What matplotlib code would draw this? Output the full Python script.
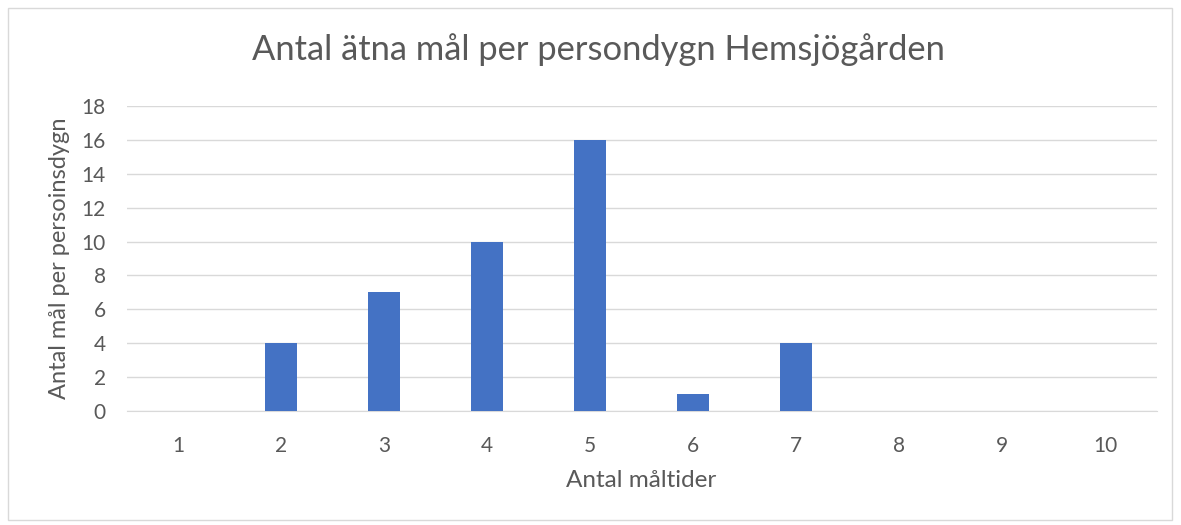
import matplotlib.pyplot as plt
from matplotlib.patches import Rectangle

# data
maltider = [1, 2, 3, 4, 5, 6, 7, 8, 9, 10]
antal = [0, 4, 7, 10, 16, 1, 4, 0, 0, 0]
y_ticks = [0, 2, 4, 6, 8, 10, 12, 14, 16, 18]

plt.rcParams['font.family'] = ['Lato', 'DejaVu Sans']

fig = plt.figure(figsize=(11.81, 5.25), dpi=100)
# chart border
fig.patches.append(Rectangle((8 / 1181, 5 / 525), 1164 / 1181, 512 / 525,
                             transform=fig.transFigure, fill=False,
                             edgecolor='#d9d9d9', linewidth=1))

ax = fig.add_axes([126.5 / 1181, 1 - 411 / 525, 1030 / 1181, 305 / 525])
x = list(range(len(maltider)))
ax.bar(x, antal, width=0.31, color='#4472c4', zorder=3)

ax.set_xlim(-0.5, len(maltider) - 0.5)
ax.set_ylim(0, 18)
ax.set_xticks(x)
ax.set_xticklabels([str(m) for m in maltider])
ax.set_yticks(y_ticks)
ax.grid(axis='y', color='#d9d9d9', linewidth=1, zorder=0)
for s in ['top', 'right', 'left']:
    ax.spines[s].set_visible(False)
ax.spines['bottom'].set_color('#d9d9d9')
ax.tick_params(length=0, labelsize=15, colors='#595959')
ax.tick_params(axis='x', pad=18)
ax.tick_params(axis='y', pad=15)

ax.set_xlabel('Antal måltider', fontsize=17.5, color='#595959', labelpad=10)
ax.set_ylabel('Antal mål per persoinsdygn', fontsize=17, color='#595959', labelpad=8)
fig.text(0.5 + 8 / 1181, 1 - 50 / 525, 'Antal ätna mål per persondygn Hemsjögården',
         ha='center', va='center', fontsize=24.8, color='#595959')

fig.savefig('out.png', dpi=100)
